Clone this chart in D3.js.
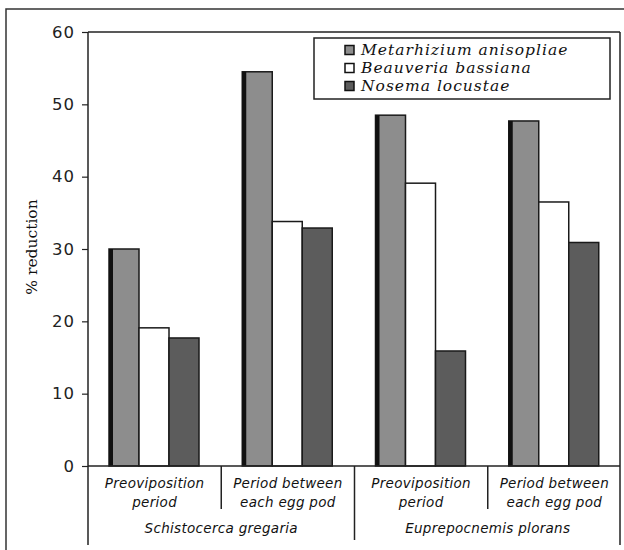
<!DOCTYPE html>
<html><head><meta charset="utf-8">
<script src="https://cdn.jsdelivr.net/npm/d3@7"></script>
<style>body{margin:0;background:#fff}svg{display:block}</style>
</head><body>
<script>
const categories = ["Preoviposition period", "Period between each egg pod", "Preoviposition period", "Period between each egg pod"];
const categoryLines = [["Preoviposition", "period"], ["Period between", "each egg pod"], ["Preoviposition", "period"], ["Period between", "each egg pod"]];
const species = ["Schistocerca gregaria", "Euprepocnemis plorans"];
const seriesNames = ["Metarhizium anisopliae", "Beauveria bassiana", "Nosema locustae"];
const metarhizium = [30, 54.5, 48.5, 47.7];
const beauveria = [19.1, 33.8, 39.1, 36.5];
const nosema = [17.7, 32.9, 15.9, 30.9];
const yTicks = [0, 10, 20, 30, 40, 50, 60];

const W = 624, H = 550;
const svg = d3.select("body").append("svg").attr("width", W).attr("height", H);
const L = 88, R = 620, T = 32, B = 466;
const y = d3.scaleLinear().domain([0, 60]).range([B, T]);
const x0 = d3.scaleBand().domain(d3.range(categories.length)).range([L, 621]);
const x1 = d3.scaleBand().domain(d3.range(seriesNames.length)).range([21, 111]);
const fills = ["#8d8d8d", "#ffffff", "#5c5c5c"];
const seriesData = [metarhizium, beauveria, nosema];

// outer frame
svg.append("rect").attr("x", 6).attr("y", 9).attr("width", 700).attr("height", 700)
  .attr("fill", "none").attr("stroke", "#333").attr("stroke-width", 1.5);

// plot frame top and right
svg.append("line").attr("x1", L).attr("x2", R).attr("y1", T).attr("y2", T).attr("stroke", "#222").attr("stroke-width", 1.5);
svg.append("line").attr("x1", R).attr("x2", R).attr("y1", T).attr("y2", 545).attr("stroke", "#222").attr("stroke-width", 1.5);

// bars
const g = svg.append("g");
seriesData.forEach((vals, si) => {
  vals.forEach((v, ci) => {
    const bx = x0(ci) + x1(si), bw = x1.bandwidth();
    g.append("rect").attr("x", bx).attr("y", y(v)).attr("width", bw).attr("height", B - y(v))
      .attr("fill", fills[si]).attr("stroke", "#1a1a1a").attr("stroke-width", 1.5);
    if (si === 0) {
      g.append("rect").attr("x", bx).attr("y", y(v)).attr("width", 4).attr("height", B - y(v)).attr("fill", "#111");
    }
  });
});

// y axis
const yAxis = d3.axisLeft(y).tickValues(yTicks).tickSize(6).tickPadding(7);
const ya = svg.append("g").attr("transform", `translate(${L},0)`).call(yAxis);
ya.select(".domain").remove();
ya.selectAll("line").attr("stroke", "#222").attr("stroke-width", 1.2);
ya.selectAll("text").attr("font-family", "DejaVu Sans, sans-serif").attr("font-size", 16.5)
  .attr("letter-spacing", 1).attr("fill", "#222");
svg.append("line").attr("x1", L).attr("x2", L).attr("y1", T).attr("y2", 545).attr("stroke", "#222").attr("stroke-width", 1.5);

// x axis line
svg.append("line").attr("x1", L).attr("x2", R).attr("y1", B).attr("y2", B).attr("stroke", "#222").attr("stroke-width", 1.5);

// category dividers
d3.range(1, categories.length).forEach(i => {
  const xx = x0(i);
  const bottom = (i === 2) ? 540 : 509;
  svg.append("line").attr("x1", xx).attr("x2", xx).attr("y1", B).attr("y2", bottom).attr("stroke", "#222").attr("stroke-width", 1.5);
});

// category labels
categoryLines.forEach((lines, i) => {
  const cx = x0(i) + x0.bandwidth() / 2;
  lines.forEach((t, j) => {
    svg.append("text").attr("x", cx).attr("y", 488 + j * 19).attr("text-anchor", "middle")
      .attr("font-family", "DejaVu Sans, sans-serif").attr("font-style", "italic").attr("font-size", 13.5)
      .attr("letter-spacing", 0.3).attr("fill", "#111").text(t);
  });
});
species.forEach((s, i) => {
  const cx = (x0(i * 2) + x0(i * 2 + 1) + x0.bandwidth()) / 2;
  svg.append("text").attr("x", cx).attr("y", 533).attr("text-anchor", "middle")
    .attr("font-family", "DejaVu Sans, sans-serif").attr("font-style", "italic").attr("font-size", 13.5)
    .attr("letter-spacing", 0.3).attr("fill", "#111").text(s);
});

// y title
svg.append("text").attr("transform", "translate(37,247) rotate(-90)").attr("text-anchor", "middle")
  .attr("font-family", "DejaVu Serif, serif").attr("font-size", 15.5).attr("fill", "#111").text("% reduction");

// legend
const lg = svg.append("g");
lg.append("rect").attr("x", 314).attr("y", 38).attr("width", 296).attr("height", 61)
  .attr("fill", "#fff").attr("stroke", "#222").attr("stroke-width", 1.5);
seriesNames.forEach((n, i) => {
  const yy = 50 + i * 18;
  lg.append("rect").attr("x", 345).attr("y", yy - 4.5).attr("width", 9).attr("height", 9)
    .attr("fill", fills[i]).attr("stroke", "#111").attr("stroke-width", 1.5);
  lg.append("text").attr("x", 361).attr("y", yy + 5).attr("font-family", "DejaVu Serif, serif")
    .attr("font-style", "italic").attr("font-size", 15.5).attr("letter-spacing", 1).attr("fill", "#111").text(n);
});
</script>
</body></html>
